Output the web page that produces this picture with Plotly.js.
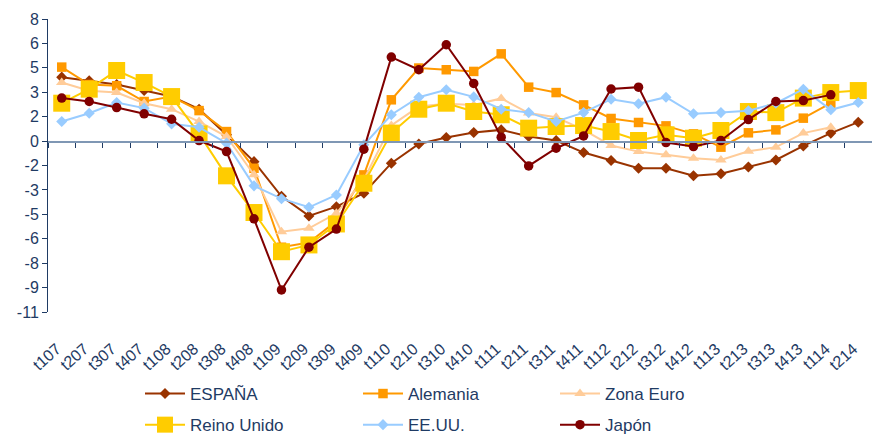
<!DOCTYPE html>
<html>
<head>
<meta charset="utf-8">
<script src="https://cdn.plot.ly/plotly-3.0.1.min.js"></script>
<style>
html,body{margin:0;padding:0;background:#fff;}
#chart{width:872px;height:437px;}
</style>
</head>
<body>
<div id="chart"></div>
<script>
var categories = ['t107','t207','t307','t407','t108','t208','t308','t408','t109','t209','t309','t409',
  't110','t210','t310','t410','t111','t211','t311','t411','t112','t212','t312','t412',
  't113','t213','t313','t413','t114','t214'];

var espana = [4.23, 4.0, 3.75, 3.36, 2.97, 2.15, 0.49, -1.25, -3.5, -4.77, -4.17, -3.3,
  -1.35, -0.1, 0.31, 0.64, 0.81, 0.38, 0.12, -0.66, -1.18, -1.68, -1.68, -2.17,
  -2.04, -1.6, -1.14, -0.23, 0.6, 1.31];
var alemania = [4.88, 3.75, 3.67, 2.65, 2.97, 2.06, 0.7, -1.68, -6.8, -6.5, -5.1, -2.11,
  2.76, 4.82, 4.71, 4.6, 5.74, 3.58, 3.23, 2.43, 1.55, 1.29, 1.07, 0.55,
  -0.31, 0.62, 0.81, 1.57, 2.54, null];
var zonaEuro = [3.88, 3.35, 3.23, 2.54, 2.15, 1.35, 0.38, -2.1, -5.79, -5.57, -4.6, -2.4,
  1.1, 2.32, 2.5, 2.43, 2.85, 1.9, 1.63, 0.81, -0.2, -0.6, -0.81, -1.03,
  -1.14, -0.58, -0.31, 0.6, 0.98, null];
var reinoUnido = [2.54, 3.45, 4.66, 3.88, 2.97, 0.55, -2.17, -4.55, -7.09, -6.65, -5.29, -2.65,
  0.6, 2.15, 2.54, 2.0, 1.79, 0.92, 1.03, 1.09, 0.7, 0.12, 0.49, 0.27,
  0.77, 2.0, 1.93, 2.87, 3.23, 3.36];
var eeuu = [1.35, 1.89, 2.58, 2.22, 1.2, 0.98, -0.05, -2.82, -3.65, -4.21, -3.41, -0.16,
  1.79, 2.93, 3.41, 2.95, 2.15, 1.93, 1.35, 1.93, 2.8, 2.5, 2.93, 1.85,
  1.93, 2.05, 2.54, 3.45, 2.11, 2.58];
var japon = [2.87, 2.65, 2.26, 1.85, 1.5, 0.12, -0.6, -4.96, -9.57, -6.8, -5.62, -0.44,
  5.53, 4.71, 6.33, 3.82, 0.34, -1.53, -0.38, 0.42, 3.46, 3.58, -0.01, -0.27,
  0.12, 1.48, 2.65, 2.71, 3.08, null];

var yTickText = ['8','6','5','3','2','0','-2','-3','-5','-6','-8','-9','-11'];
var yMin = -11, yMax = 8;
var yTickVals = yTickText.map(function(t, i){ return yMax - i * (yMax - yMin) / (yTickText.length - 1); });

var navy = '#1f3b64';
var font = 'Liberation Sans, Arial, sans-serif';

function series(name, y, color, symbol, size, legend) {
  return {
    type: 'scatter', mode: 'lines+markers', name: name, x: categories, y: y,
    line: {color: color, width: 2},
    marker: {color: color, symbol: symbol, size: size},
    legend: legend, legendgroup: name, connectgaps: false, cliponaxis: false
  };
}

var traces = [
  series('ESPAÑA', espana, '#993300', 'diamond', 8.5, 'legend'),
  series('Alemania', alemania, '#FF9900', 'square', 9.5, 'legend2'),
  series('Zona Euro', zonaEuro, '#FFCC99', 'triangle-up', 10, 'legend3'),
  series('Reino Unido', reinoUnido, '#FFCC00', 'square', 17, 'legend'),
  series('EE.UU.', eeuu, '#99CCFF', 'diamond', 8.5, 'legend2'),
  series('Japón', japon, '#800000', 'circle', 9.5, 'legend3')
];

var W = 872, H = 437;
var mL = 48, mR = 0;
function px2paperX(px){ return (px - mL) / (W - mL - mR); }
var legendBase = {
  orientation: 'v', xref: 'paper', yref: 'container',
  yanchor: 'top', xanchor: 'left', y: 1 - 376 / H,
  font: {family: font, size: 17, color: navy},
  bgcolor: 'rgba(0,0,0,0)', itemwidth: 40, tracegroupgap: 6, traceorder: 'grouped'
};

var layout = {
  width: W, height: H,
  margin: {l: mL, r: mR, t: 19, b: 125},
  paper_bgcolor: '#fff', plot_bgcolor: '#fff',
  font: {family: font, color: navy},
  showlegend: true,
  xaxis: {
    type: 'category', anchor: 'free', position: (0 - yMin) / (yMax - yMin),
    range: [-0.5, categories.length - 0.5],
    showline: true, linecolor: '#7f97b4', linewidth: 2,
    ticks: 'outside', tickson: 'boundaries', ticklen: 5, tickcolor: '#1f3b64', tickwidth: 1,
    tickangle: -42, tickfont: {family: font, size: 16, color: navy},
    ticklabelstandoff: 190, ticklabelshift: -5,
    showgrid: false, zeroline: false, automargin: false, fixedrange: true
  },
  yaxis: {
    range: [yMin, yMax], domain: [0, 1],
    tickmode: 'array', tickvals: yTickVals, ticktext: yTickText,
    ticks: 'outside', ticklen: 5, tickcolor: '#1f3b64',
    showline: true, linecolor: '#1f3b64', linewidth: 1,
    tickfont: {family: font, size: 16, color: navy},
    showgrid: false, zeroline: false, automargin: false, fixedrange: true
  },
  legend: Object.assign({}, legendBase, {x: px2paperX(140)}),
  legend2: Object.assign({}, legendBase, {x: px2paperX(358)}),
  legend3: Object.assign({}, legendBase, {x: px2paperX(555)})
};

Plotly.newPlot('chart', traces, layout, {displayModeBar: false, staticPlot: true});
</script>
</body>
</html>
